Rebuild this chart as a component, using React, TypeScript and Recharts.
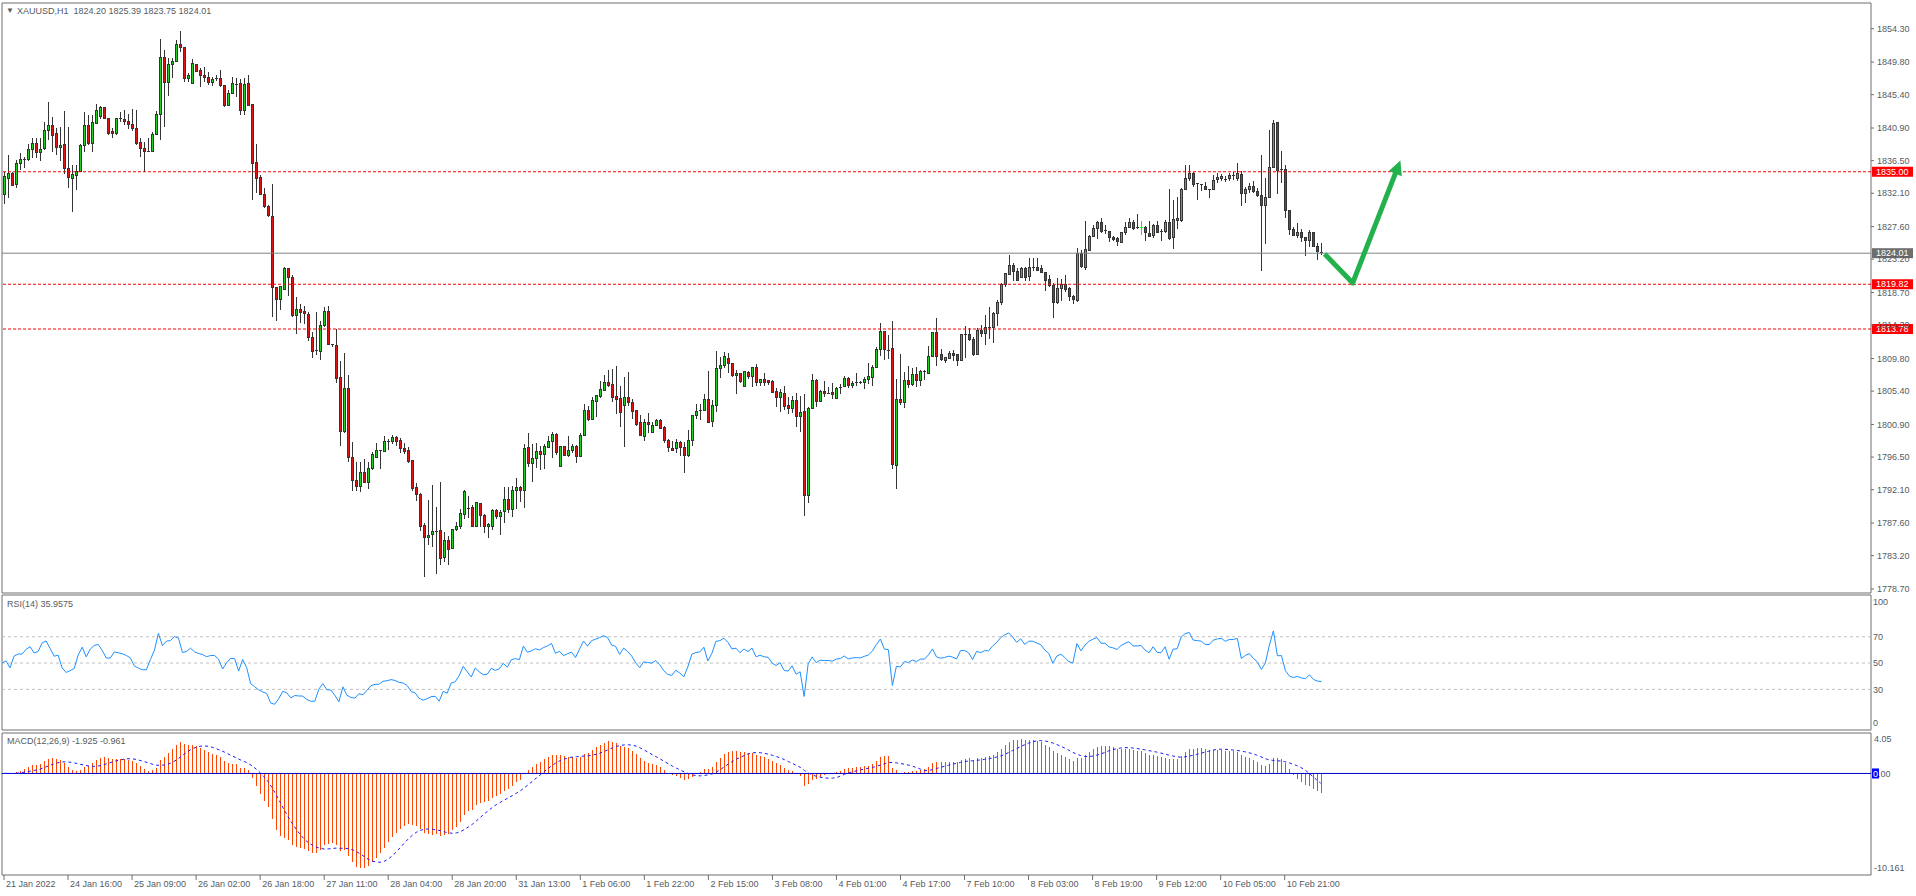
import React from 'react'
import { ComposedChart, Bar, Line, XAxis, YAxis, ReferenceLine, ReferenceArea } from 'recharts'

const FONT = '"Liberation Sans", Arial, sans-serif'
const TEXT = '#555b63'
const FRAME = '#6e6e6e'
const UP = '#22cf22'
const DOWN = '#dc1414'
const WICK = '#353535'

// XAUUSD H1 bars, [open, high, low, close]
const ohlc: number[][] = [
  [1831.95,1835.0,1830.7,1834.3],[1834.1,1837.3,1831.5,1834.8],[1834.8,1835.0,1833.1,1833.2],[1833.3,1836.6,1832.8,1836.1],[1836.1,1837.5,1835.2,1836.7],
  [1836.6,1837.0,1835.5,1836.7],[1836.6,1838.8,1836.4,1838.0],[1838.0,1839.6,1836.8,1838.8],[1838.8,1839.6,1836.8,1837.6],[1837.6,1839.5,1836.4,1838.0],
  [1838.1,1841.75,1837.9,1840.6],[1840.6,1844.4,1839.3,1841.3],[1841.3,1842.4,1837.6,1839.9],[1840.1,1840.85,1837.3,1838.3],[1838.3,1841.0,1836.4,1838.6],
  [1838.7,1843.2,1834.65,1835.5],[1835.5,1841.1,1832.8,1834.2],[1834.1,1835.9,1829.6,1834.6],[1834.5,1835.9,1832.5,1835.1],[1835.1,1838.8,1835.0,1838.6],
  [1838.6,1843.0,1837.7,1841.3],[1841.3,1842.65,1838.6,1838.8],[1838.8,1842.6,1837.7,1841.7],[1841.5,1844.2,1841.4,1843.3],[1842.4,1843.9,1842.1,1843.7],
  [1843.7,1843.7,1842.1,1842.2],[1842.2,1842.25,1840.0,1840.1],[1840.4,1840.85,1839.5,1840.1],[1840.1,1842.3,1840.0,1842.2],[1842.2,1843.0,1841.75,1842.0],
  [1842.1,1843.3,1841.3,1841.75],[1841.75,1842.8,1840.8,1841.35],[1841.4,1843.5,1840.5,1840.8],[1840.85,1843.3,1838.6,1838.8],[1838.9,1839.5,1837.0,1838.2],
  [1838.2,1839.05,1835.0,1837.8],[1837.8,1839.5,1837.7,1837.78],[1837.7,1840.4,1837.6,1840.05],[1840.0,1843.2,1839.9,1842.7],[1842.7,1852.9,1839.3,1850.4],
  [1850.4,1851.4,1841.1,1847.1],[1847.1,1850.3,1845.2,1849.5],[1849.5,1850.4,1847.6,1849.85],[1849.85,1852.8,1849.8,1852.2],[1852.2,1854.0,1851.1,1851.8],
  [1851.8,1851.9,1847.1,1847.6],[1847.6,1848.3,1847.1,1848.05],[1846.9,1850.2,1846.8,1849.6],[1849.5,1849.6,1848.4,1848.5],[1848.6,1849.0,1846.5,1848.0],
  [1848.05,1849.1,1847.15,1847.7],[1847.7,1848.4,1846.7,1847.1],[1847.1,1847.8,1846.6,1847.5],[1847.6,1848.05,1847.2,1847.5],[1847.6,1848.7,1846.4,1846.6],
  [1846.6,1846.7,1843.8,1843.9],[1843.9,1846.0,1843.9,1845.6],[1845.6,1847.8,1845.5,1846.9],[1846.9,1847.6,1845.1,1846.88],[1846.9,1847.5,1842.7,1843.2],
  [1843.2,1847.6,1842.7,1846.8],[1846.9,1848.1,1843.9,1844.0],[1844.1,1844.2,1831.2,1836.1],[1836.2,1838.7,1832.1,1834.1],[1834.2,1834.6,1831.9,1831.95],
  [1831.9,1832.8,1830.15,1830.3],[1830.3,1830.5,1828.9,1829.1],[1829.0,1833.35,1815.4,1819.35],[1819.35,1819.5,1814.85,1817.7],[1817.7,1819.6,1816.4,1819.5],
  [1819.1,1822.1,1819.0,1822.0],[1822.0,1822.05,1818.3,1820.7],[1820.75,1821.1,1815.4,1815.6],[1815.6,1818.1,1813.05,1816.4],[1816.4,1817.2,1814.6,1816.0],
  [1816.1,1816.9,1814.5,1815.85],[1815.8,1816.1,1812.2,1812.6],[1812.65,1813.4,1809.9,1810.8],[1810.9,1816.1,1810.3,1810.8],[1810.8,1814.8,1809.6,1814.3],
  [1814.3,1816.7,1814.1,1816.1],[1816.2,1816.9,1811.6,1811.7],[1811.7,1811.8,1811.4,1811.5],[1811.5,1813.75,1806.5,1807.1],[1807.2,1809.5,1797.95,1800.0],
  [1800.0,1810.6,1799.8,1805.7],[1805.7,1807.6,1795.8,1796.5],[1796.5,1798.6,1791.9,1793.4],[1793.35,1795.8,1791.9,1792.5],[1792.5,1795.8,1791.8,1794.4],
  [1794.4,1796.3,1793.0,1793.05],[1793.05,1795.8,1792.15,1794.9],[1794.9,1797.15,1794.8,1796.8],[1796.5,1798.4,1796.5,1797.35],[1797.35,1797.5,1794.95,1797.4],
  [1797.2,1799.4,1797.15,1798.55],[1798.55,1798.95,1797.5,1798.7],[1798.65,1799.5,1798.3,1799.1],[1799.1,1799.4,1797.95,1798.65],[1798.7,1799.1,1797.05,1797.6],
  [1797.6,1798.4,1796.85,1797.3],[1797.4,1797.9,1795.7,1795.95],[1796.0,1796.0,1791.9,1792.3],[1792.4,1793.05,1790.6,1791.4],[1791.4,1791.7,1786.5,1787.2],
  [1787.3,1787.65,1780.35,1785.6],[1785.6,1790.7,1784.65,1785.95],[1786.1,1792.8,1784.3,1786.45],[1786.5,1789.7,1780.75,1786.52],[1786.6,1793.1,1781.9,1782.8],
  [1782.9,1786.45,1782.3,1785.2],[1785.2,1785.85,1781.95,1784.05],[1784.15,1786.75,1784.05,1786.75],[1786.7,1787.75,1786.5,1787.1],[1787.1,1789.55,1786.85,1788.9],
  [1788.7,1792.05,1788.2,1791.9],[1789.65,1791.25,1788.25,1789.62],[1789.7,1790.0,1787.1,1787.2],[1787.2,1790.35,1787.1,1790.35],[1790.2,1790.25,1787.0,1788.55],
  [1788.65,1788.8,1786.3,1787.2],[1787.1,1787.65,1785.6,1787.4],[1787.2,1789.55,1786.7,1789.35],[1789.3,1789.55,1788.2,1788.5],[1788.5,1789.35,1786.0,1789.0],
  [1789.1,1792.5,1787.65,1790.8],[1790.8,1792.5,1789.0,1789.45],[1789.45,1792.6,1788.4,1792.0],[1792.0,1793.7,1789.45,1792.4],[1792.4,1792.6,1790.45,1792.05],
  [1792.05,1798.3,1789.6,1797.6],[1797.75,1799.8,1795.2,1795.7],[1795.7,1798.3,1793.1,1796.3],[1796.3,1798.4,1795.05,1797.25],[1797.3,1798.05,1794.8,1796.9],
  [1796.9,1798.3,1794.9,1797.9],[1797.85,1799.3,1797.75,1798.55],[1798.55,1799.85,1796.4,1799.6],[1799.5,1799.7,1796.75,1797.15],[1795.2,1797.95,1795.15,1797.9],
  [1797.9,1797.95,1796.6,1796.75],[1796.75,1799.4,1796.5,1797.4],[1797.4,1798.2,1797.05,1797.9],[1797.9,1798.1,1795.7,1796.6],[1796.6,1799.7,1796.5,1799.4],
  [1799.45,1803.6,1799.3,1802.8],[1802.8,1803.35,1801.4,1801.55],[1801.6,1804.6,1801.5,1804.1],[1804.0,1804.9,1801.9,1804.8],[1804.7,1806.8,1804.5,1805.6],
  [1805.5,1807.6,1805.4,1806.6],[1806.6,1808.3,1806.0,1806.2],[1806.3,1808.4,1803.9,1804.6],[1804.65,1808.8,1802.3,1804.3],[1804.4,1806.1,1800.6,1802.45],
  [1803.5,1807.25,1797.85,1804.6],[1804.6,1808.0,1803.35,1803.8],[1803.8,1804.4,1801.6,1802.7],[1802.8,1802.8,1800.7,1800.9],[1801.1,1802.2,1799.4,1799.45],
  [1799.3,1801.6,1798.65,1801.1],[1801.2,1802.45,1799.7,1800.9],[1799.8,1801.3,1799.7,1800.75],[1800.75,1801.6,1800.7,1801.4],[1801.4,1801.65,1800.35,1800.4],
  [1800.5,1800.7,1798.4,1798.8],[1798.8,1798.95,1797.25,1797.75],[1797.7,1798.65,1797.35,1797.45],[1797.7,1798.9,1797.1,1798.5],[1798.5,1798.7,1796.6,1797.75],
  [1797.8,1798.6,1794.4,1796.7],[1796.7,1800.15,1796.45,1798.75],[1798.75,1802.2,1798.0,1802.1],[1802.1,1803.6,1801.6,1802.65],[1802.65,1803.65,1801.5,1802.85],
  [1802.75,1805.0,1802.7,1804.3],[1804.3,1808.1,1801.05,1801.1],[1801.3,1804.2,1800.5,1803.5],[1803.5,1810.8,1802.6,1808.5],[1808.5,1810.0,1807.2,1808.9],
  [1808.9,1810.7,1808.5,1810.1],[1809.8,1810.6,1807.9,1809.15],[1809.15,1809.15,1807.35,1807.5],[1807.5,1808.2,1805.05,1807.8],[1807.8,1807.9,1806.5,1806.7],
  [1806.0,1808.15,1805.9,1808.0],[1807.9,1808.1,1807.1,1807.4],[1807.4,1808.7,1805.9,1808.6],[1808.6,1809.0,1806.1,1806.5],[1806.5,1807.1,1806.1,1807.0],
  [1807.0,1807.85,1806.1,1806.6],[1806.8,1806.9,1806.2,1806.5],[1806.75,1806.9,1805.2,1805.2],[1805.4,1805.8,1803.2,1804.55],[1804.55,1805.7,1802.65,1805.2],
  [1805.1,1806.1,1802.85,1803.3],[1803.5,1804.65,1802.25,1803.1],[1803.1,1804.8,1802.4,1804.2],[1804.2,1805.1,1800.55,1802.0],[1802.0,1804.8,1799.95,1802.5],
  [1802.65,1805.0,1788.6,1791.3],[1791.3,1803.3,1790.25,1803.1],[1803.1,1807.7,1803.0,1806.9],[1806.9,1807.1,1803.2,1804.0],[1804.0,1805.55,1803.9,1805.3],
  [1805.4,1806.75,1804.55,1805.1],[1805.2,1805.9,1805.0,1805.18],[1805.2,1806.45,1804.3,1804.9],[1804.4,1805.9,1804.3,1805.8],[1805.9,1806.35,1805.0,1806.0],
  [1806.0,1807.5,1805.9,1807.1],[1807.1,1807.35,1805.8,1806.1],[1806.1,1806.8,1805.85,1806.45],[1806.45,1807.9,1806.1,1806.6],[1806.6,1806.7,1806.4,1806.5],
  [1806.6,1807.25,1805.7,1807.0],[1807.0,1809.15,1806.35,1807.4],[1807.25,1808.9,1806.1,1808.65],[1808.65,1811.4,1808.5,1811.0],[1811.0,1814.55,1810.1,1813.4],
  [1813.4,1813.5,1809.6,1811.0],[1811.0,1813.0,1809.8,1810.85],[1811.2,1814.85,1794.85,1795.55],[1795.4,1807.1,1792.15,1804.3],[1804.3,1810.4,1803.5,1803.9],
  [1803.9,1808.0,1803.1,1806.85],[1806.85,1808.8,1805.8,1806.3],[1806.3,1808.55,1806.1,1807.6],[1807.6,1808.7,1805.9,1806.9],[1806.9,1808.3,1806.1,1808.1],
  [1808.15,1808.3,1806.85,1808.13],[1807.8,1811.5,1807.7,1810.1],[1810.1,1813.3,1810.0,1813.25],[1813.3,1815.2,1808.75,1810.1],[1810.3,1811.1,1809.5,1809.6],
  [1809.55,1810.0,1809.15,1809.9],[1809.8,1810.85,1809.7,1810.5],[1810.5,1810.9,1809.5,1810.2],[1810.3,1810.35,1808.75,1809.55],[1809.55,1813.0,1809.5,1813.0],
  [1813.1,1814.2,1809.9,1813.08],[1813.1,1813.9,1812.15,1812.4],[1812.4,1812.65,1810.2,1810.35],[1810.35,1813.9,1810.3,1813.6],[1813.6,1814.3,1812.65,1813.2],
  [1813.2,1815.7,1811.6,1814.0],[1814.0,1816.8,1812.4,1813.98],[1814.0,1816.1,1811.85,1815.9],[1815.9,1817.69,1814.2,1817.4],[1817.4,1820.0,1817.0,1819.8],
  [1819.85,1821.4,1819.5,1821.3],[1821.15,1823.7,1821.1,1822.4],[1822.4,1822.7,1820.2,1821.5],[1821.6,1821.95,1820.2,1820.3],[1820.7,1822.2,1820.6,1822.0],
  [1822.0,1822.2,1820.3,1820.7],[1820.85,1823.4,1820.2,1822.1],[1821.9,1823.4,1821.65,1822.1],[1822.1,1823.4,1821.65,1821.7],[1821.9,1822.4,1821.3,1821.4],
  [1821.4,1821.5,1818.95,1820.3],[1820.4,1821.1,1819.4,1819.6],[1819.6,1820.0,1815.3,1817.3],[1817.3,1820.6,1817.1,1819.3],[1819.3,1820.5,1817.5,1819.85],
  [1819.85,1821.1,1818.8,1819.1],[1819.2,1819.4,1817.5,1818.1],[1818.2,1818.4,1817.15,1817.8],[1817.6,1824.66,1817.4,1824.0],[1824.0,1824.45,1822.0,1822.2],
  [1822.05,1828.35,1821.7,1824.5],[1824.4,1826.46,1824.35,1826.3],[1826.3,1827.8,1826.15,1827.4],[1827.3,1828.35,1825.9,1828.2],[1828.2,1828.7,1826.78,1826.9],
  [1827.1,1827.8,1826.6,1826.9],[1827.0,1827.05,1825.5,1826.1],[1826.15,1826.33,1825.7,1825.9],[1826.06,1826.15,1825.0,1825.56],[1825.47,1826.9,1825.34,1826.8],
  [1826.8,1828.26,1826.42,1827.54],[1827.45,1828.76,1827.36,1828.1],[1828.1,1828.49,1827.14,1827.36],[1827.54,1829.3,1827.23,1827.36],[1827.5,1828.35,1826.46,1827.5],
  [1827.54,1827.72,1825.65,1826.78],[1826.73,1828.35,1826.24,1826.33],[1826.37,1827.9,1826.0,1827.77],[1827.77,1828.4,1826.69,1826.87],[1827.0,1827.23,1825.65,1826.82],
  [1826.91,1828.49,1826.69,1828.17],[1828.17,1832.67,1825.79,1826.06],[1826.15,1831.18,1824.57,1828.58],[1828.4,1831.54,1827.23,1828.67],[1828.4,1832.76,1828.26,1832.62],
  [1832.62,1835.9,1832.53,1834.1],[1834.06,1835.9,1833.75,1834.7],[1834.7,1835.0,1832.98,1833.34],[1833.43,1833.52,1831.18,1833.25],[1833.3,1833.34,1832.44,1833.16],
  [1833.03,1833.66,1832.53,1832.62],[1832.62,1832.67,1831.5,1832.6],[1832.62,1834.56,1832.53,1833.88],[1833.93,1834.78,1833.43,1834.24],[1834.06,1834.7,1833.75,1834.42],
  [1834.06,1834.47,1833.66,1834.04],[1834.06,1834.87,1833.75,1834.5],[1834.38,1835.0,1833.88,1834.5],[1834.06,1836.13,1833.8,1834.78],[1834.65,1835.1,1830.42,1832.08],
  [1832.08,1832.9,1830.82,1832.67],[1832.58,1833.43,1832.08,1833.03],[1833.03,1833.75,1832.17,1832.31],[1832.4,1832.76,1831.63,1831.77],[1831.8,1837.26,1821.65,1830.46],
  [1830.42,1834.1,1825.25,1831.54],[1831.54,1840.63,1831.41,1835.6],[1835.6,1841.98,1835.46,1841.53],[1841.67,1841.76,1831.98,1835.23],[1835.32,1837.8,1833.52,1835.3],
  [1835.32,1835.9,1828.8,1829.74],[1829.83,1829.83,1826.46,1827.23],[1827.23,1827.59,1826.42,1826.46],[1826.37,1828.04,1826.1,1826.82],[1826.82,1827.23,1825.56,1826.1],
  [1826.1,1826.24,1823.67,1825.79],[1825.79,1827.14,1824.89,1826.82],[1826.82,1826.82,1824.8,1824.89],[1824.98,1825.34,1823.09,1824.21],[1824.2,1825.39,1823.75,1824.01],
]

const timeLabels = [
  '21 Jan 2022', '24 Jan 16:00', '25 Jan 09:00', '26 Jan 02:00', '26 Jan 18:00', '27 Jan 11:00', '28 Jan 04:00',
  '28 Jan 20:00', '31 Jan 13:00', '1 Feb 06:00', '1 Feb 22:00', '2 Feb 15:00', '3 Feb 08:00', '4 Feb 01:00',
  '4 Feb 17:00', '7 Feb 10:00', '8 Feb 03:00', '8 Feb 19:00', '9 Feb 12:00', '10 Feb 05:00', '10 Feb 21:00',
]
const BARS_PER_LABEL = 16
const SLOTS = 467 // bars + empty space on the right

const priceTicks = [1854.3, 1849.8, 1845.4, 1840.9, 1836.5, 1832.1, 1827.6, 1823.2, 1818.7, 1814.3,
  1809.8, 1805.4, 1800.9, 1796.5, 1792.1, 1787.6, 1783.2, 1778.7]
const priceDomain = [1778.16, 1857.77]
const redLevels = [1835.0, 1819.82, 1813.78]
const bid = 1824.01

const rsiDomain = [-0.87, 101.7]
const rsiLevels = [70, 50, 30]
const rsiTicks = [0, 30, 50, 70, 100]
const macdDomain = [-10.161, 4.05]
const macdTicks = [-10.161, 0, 4.05]

// hand drawn arrow after the last bar: [slot, price]
const arrowPts = [[330, 1823.9], [337, 1820.0], [348, 1835.25]]

const closes = ohlc.map(b => b[3])

// RSI(14), Wilder smoothing; warm-up starts from a neutral split of the first moves
function calcRsi(p: number) {
  let m = 0
  for (let i = 1; i <= p; i++) m += Math.abs(closes[i] - closes[i - 1])
  let g = m / p / 2
  let d = m / p / 2
  const out = [50]
  for (let i = 1; i < closes.length; i++) {
    const ch = closes[i] - closes[i - 1]
    g = (g * (p - 1) + Math.max(ch, 0)) / p
    d = (d * (p - 1) + Math.max(-ch, 0)) / p
    out.push(d === 0 ? 100 : 100 - 100 / (1 + g / d))
  }
  return out
}

function ema(n: number) {
  const k = 2 / (n + 1)
  let e = closes[0]
  return closes.map(c => (e = e + k * (c - e)))
}

const rsi = calcRsi(14)
const e12 = ema(12)
const e26 = ema(26)
const macd = closes.map((_, i) => e12[i] - e26[i])
const signal = macd.map((_, i) => {
  const w = macd.slice(Math.max(0, i - 8), i + 1)
  return w.reduce((a, b) => a + b, 0) / w.length
})

const rows = Array.from({ length: SLOTS }, (_, i) => {
  const b = ohlc[i]
  const a = arrowPts.find(p => p[0] === i)
  return {
    i,
    o: b ? b[0] : null, h: b ? b[1] : null, l: b ? b[2] : null, c: b ? b[3] : null,
    range: b ? [b[2], b[1]] : null,
    rsi: b ? rsi[i] : null,
    macd: b ? macd[i] : null,
    signal: b ? signal[i] : null,
    arrow: a ? a[1] : null,
  }
})
const tickSlots = timeLabels.map((_, k) => k * BARS_PER_LABEL)

function Candle(props: any) {
  const { x, y, width, height, payload } = props
  if (!payload || payload.o == null || y == null) return <g />
  const { o, h, l, c } = payload
  const top = Math.min(y, y + height)
  const px = Math.abs(height)
  const k = h > l ? px / (h - l) : 0
  const cx = Math.floor(x + width / 2) + 0.5
  const yTop = top + (h - Math.max(o, c)) * k
  const yBot = top + (h - Math.min(o, c)) * k
  if (o === c) {
    const yy = Math.round(yTop) + 0.5
    return (
      <g>
        <line x1={cx} x2={cx} y1={top} y2={top + px} stroke="#00ff00" />
        <line x1={cx - 1.5} x2={cx + 1.5} y1={yy} y2={yy} stroke="#00ff00" />
      </g>
    )
  }
  return (
    <g shapeRendering="crispEdges">
      <line x1={cx} x2={cx} y1={top} y2={top + px} stroke={WICK} />
      {yBot - yTop < 1.5 ? (
        <line x1={cx - 1.5} x2={cx + 1.5} y1={Math.round(yTop) + 0.5} y2={Math.round(yTop) + 0.5} stroke={WICK} />
      ) : (
        <rect x={cx - 1} y={yTop} width={2} height={yBot - yTop} fill={c > o ? UP : DOWN} stroke={WICK} />
      )}
    </g>
  )
}

function Hist(props: any) {
  const { x, y, width, height } = props
  if (y == null || height == null) return <g />
  const top = Math.min(y, y + height)
  return <rect x={Math.floor(x + width / 2)} y={top} width={1} height={Math.max(Math.abs(height), 0.5)} fill="#ff4500" shapeRendering="crispEdges" />
}

function ArrowHead(props: any) {
  const { cx, cy, payload } = props
  if (!payload || payload.i !== arrowPts[arrowPts.length - 1][0] || cx == null || cy == null) return <g />
  // last leg points up and to the right
  const ux = 0.363, uy = -0.932
  const tx = cx + 10 * ux, ty = cy + 10 * uy
  const bx = cx - 4 * ux, by = cy - 4 * uy
  const w = 7
  const pts = `${tx},${ty} ${bx - w * uy},${by + w * ux} ${bx + w * uy},${by - w * ux}`
  return <polygon points={pts} fill="#22b14c" />
}

function PriceTick(props: any) {
  const { x, y, payload } = props
  return (
    <g>
      <line x1={x} x2={x + 3} y1={y} y2={y} stroke={FRAME} />
      <text x={x + 6} y={y} dy="0.35em" fontSize={9} fill={TEXT} style={{ fontFamily: FONT }}>{payload.value.toFixed(2)}</text>
    </g>
  )
}

function RsiTick(props: any) {
  const { x, y, payload } = props
  const v = payload.value
  const shift = v === 100 ? 5 : v === 0 ? -6 : 0
  return <text x={x + 2} y={y + shift} dy="0.35em" fontSize={9} fill={TEXT} style={{ fontFamily: FONT }}>{v}</text>
}

function MacdTick(props: any) {
  const { x, y, payload } = props
  const v = payload.value
  if (v === 0) {
    return (
      <g>
        <rect x={x + 1} y={y - 5} width={7} height={10} fill="#0000ff" />
        <text x={x + 2} y={y} dy="0.35em" fontSize={9} fill={TEXT} style={{ fontFamily: FONT }}>
          <tspan fill="#ffffff">0</tspan>.00
        </text>
      </g>
    )
  }
  const shift = v > 0 ? 6 : -7
  return <text x={x + 3} y={y + shift} dy="0.35em" fontSize={9} fill={TEXT} style={{ fontFamily: FONT }}>{String(v)}</text>
}

function TimeTick(props: any) {
  const { x, y, payload } = props
  const label = timeLabels[Math.round(payload.value / BARS_PER_LABEL)]
  return (
    <g>
      <line x1={x} x2={x} y1={y} y2={y + 5} stroke={FRAME} />
      <text x={x + 2} y={y + 12} fontSize={9} fill={TEXT} style={{ fontFamily: FONT }}>{label}</text>
    </g>
  )
}

const tag = (bg: string, text: string) => (p: any) => {
  const vb = p.viewBox || {}
  const xr = vb.x + vb.width
  return (
    <g>
      <rect x={xr + 1} y={vb.y - 5} width={41} height={10} fill={bg} />
      <text x={xr + 5} y={vb.y} dy="0.35em" fontSize={9} fill="#fff" style={{ fontFamily: FONT }}>{text}</text>
    </g>
  )
}

const titleStyle: React.CSSProperties = {
  position: 'absolute', fontSize: 9, lineHeight: '12px', color: TEXT, fontFamily: FONT, whiteSpace: 'pre',
}

export default function App() {
  return (
    <div style={{ position: 'absolute', left: 0, top: 0, width: 1916, height: 896, background: '#fff' }}>
      <div style={{ position: 'absolute', left: 0, top: 0 }}>
        <ComposedChart width={1916} height={594} data={rows} margin={{ top: 3, right: 0, bottom: 1, left: 2 }}>
          <XAxis dataKey="i" type="category" hide />
          <YAxis orientation="right" type="number" domain={priceDomain} ticks={priceTicks} interval={0} allowDataOverflow
            tick={<PriceTick />} tickLine={false} axisLine={false} tickSize={0} tickMargin={0} width={45} />
          <ReferenceArea y1={priceDomain[0]} y2={priceDomain[1]} fill="none" stroke={FRAME} ifOverflow="visible" />
          <ReferenceLine y={bid} stroke="#7d848c" label={tag('#6e6e6e', bid.toFixed(2))} />
          {redLevels.map(v => (
            <ReferenceLine key={v} y={v} stroke="#ff0000" strokeDasharray="3 2" label={tag('#ff0000', v.toFixed(2))} />
          ))}
          <Bar dataKey="range" barSize={3} shape={<Candle />} isAnimationActive={false} />
          <Line dataKey="arrow" stroke="#22b14c" strokeWidth={5} connectNulls strokeLinejoin="round"
            dot={(p: any) => <ArrowHead key={p.index} {...p} />} activeDot={false} isAnimationActive={false} />
        </ComposedChart>
      </div>
      <div style={{ position: 'absolute', left: 0, top: 594 }}>
        <ComposedChart width={1916} height={137} data={rows} margin={{ top: 1, right: 0, bottom: 1, left: 2 }}>
          <XAxis dataKey="i" type="category" hide />
          <YAxis orientation="right" type="number" domain={rsiDomain} ticks={rsiTicks} interval={0} allowDataOverflow
            tick={<RsiTick />} tickLine={false} axisLine={false} tickSize={0} tickMargin={0} width={45} />
          <ReferenceArea y1={rsiDomain[0]} y2={rsiDomain[1]} fill="none" stroke={FRAME} ifOverflow="visible" />
          {rsiLevels.map(v => <ReferenceLine key={v} y={v} stroke="#c0c0c0" strokeDasharray="3 3" />)}
          <Line dataKey="rsi" stroke="#1e90ff" strokeWidth={1} dot={false} activeDot={false} isAnimationActive={false} />
        </ComposedChart>
      </div>
      <div style={{ position: 'absolute', left: 0, top: 731 }}>
        <ComposedChart width={1916} height={165} data={rows} margin={{ top: 2, right: 0, bottom: 0, left: 2 }}>
          <XAxis dataKey="i" type="category" ticks={tickSlots} interval={0} tick={<TimeTick />}
            tickLine={false} axisLine={false} tickSize={0} tickMargin={0} height={21} />
          <YAxis orientation="right" type="number" domain={macdDomain} ticks={macdTicks} interval={0} allowDataOverflow
            tick={<MacdTick />} tickLine={false} axisLine={false} tickSize={0} tickMargin={0} width={45} />
          <ReferenceArea y1={macdDomain[0]} y2={macdDomain[1]} fill="none" stroke={FRAME} ifOverflow="visible" />
          <ReferenceLine y={0} stroke="#0000cc" />
          <Bar dataKey="macd" barSize={1} shape={<Hist />} isAnimationActive={false} />
          <Line dataKey="signal" stroke="#1a1aff" strokeWidth={1} strokeDasharray="3 3" dot={false} activeDot={false} isAnimationActive={false} />
        </ComposedChart>
      </div>
      <div style={{ ...titleStyle, left: 6, top: 5, fontSize: 8 }}>▼</div>
      <div style={{ ...titleStyle, left: 17, top: 5 }}>XAUUSD,H1  1824.20 1825.39 1823.75 1824.01</div>
      <div style={{ ...titleStyle, left: 7, top: 598 }}>RSI(14) 35.9575</div>
      <div style={{ ...titleStyle, left: 7, top: 735 }}>MACD(12,26,9) -1.925 -0.961</div>
    </div>
  )
}
